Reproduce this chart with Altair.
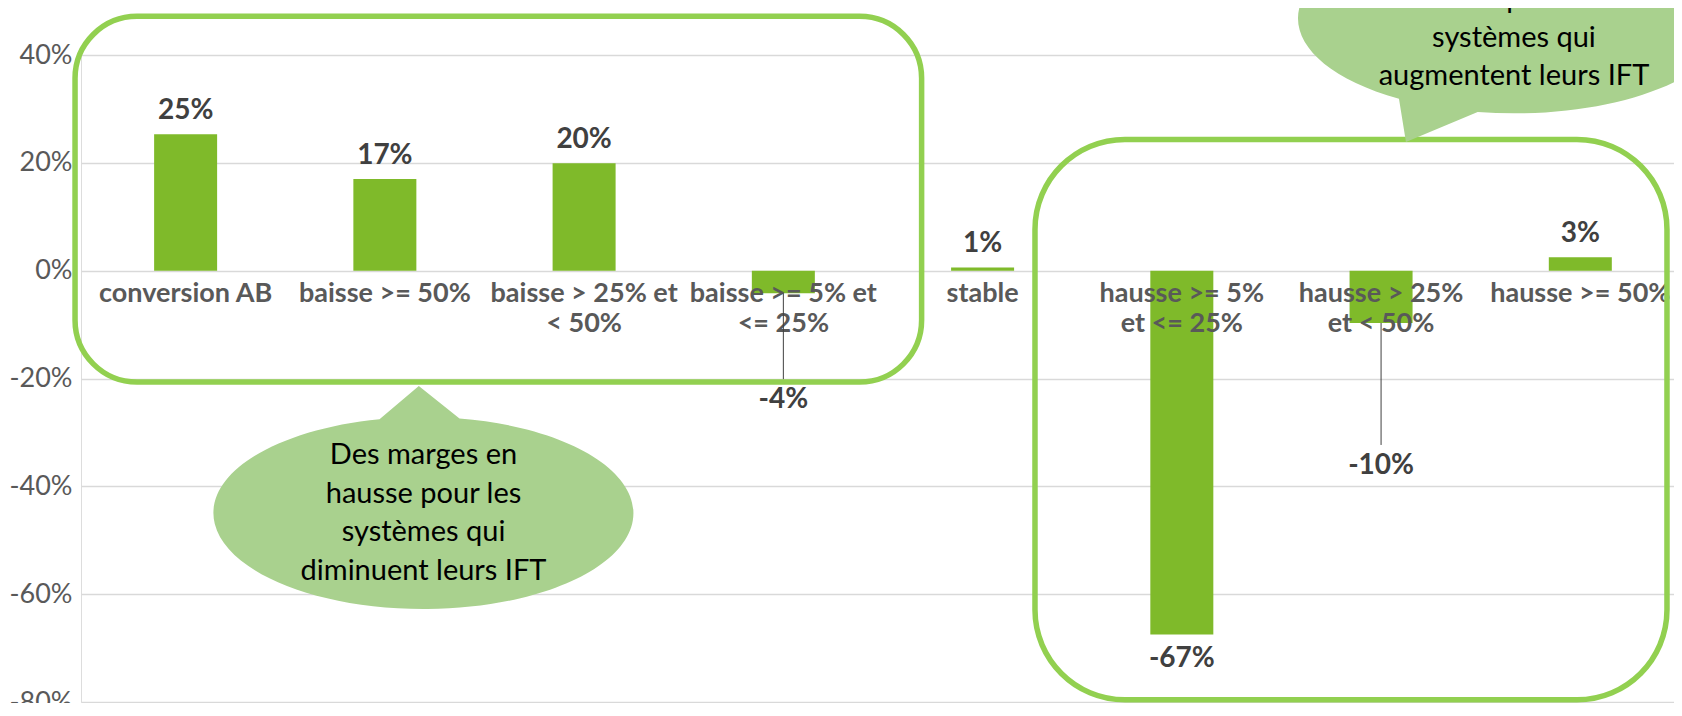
import altair as alt
import pandas as pd

# ---------------- data ----------------
categories = [
    "conversion AB",
    "baisse >= 50%",
    "baisse > 25% et < 50%",
    "baisse >= 5% et <= 25%",
    "stable",
    "hausse >= 5% et <= 25%",
    "hausse > 25% et < 50%",
    "hausse >= 50%",
]
axis_labels = [
    "conversion AB",
    "baisse >= 50%",
    "baisse > 25% et\n< 50%",
    "baisse >= 5% et\n<= 25%",
    "stable",
    "hausse >= 5%\net <= 25%",
    "hausse > 25%\net < 50%",
    "hausse >= 50%",
]
values = [0.253, 0.170, 0.199, -0.042, 0.006, -0.675, -0.097, 0.025]
value_labels = ["25%", "17%", "20%", "-4%", "1%", "-67%", "-10%", "3%"]
y_ticks = [-0.8, -0.6, -0.4, -0.2, 0.0, 0.2, 0.4]

bubble_texts = [
    "Des marges en\nhausse pour les\nsystèmes qui\ndiminuent leurs IFT",
    "Des marges en\nbaisse pour les\nsystèmes qui\naugmentent leurs IFT",
]

# ---------------- styling ----------------
FONT = "Lato"
BAR = "#7FBA2A"
FRAME = "#92D050"
BUBBLE = "#A9D18E"
W, H = 1593, 647
STEP = 200.5
XMAX = -0.5 + W / STEP
LH_BUBBLE = 38.6

df = pd.DataFrame({
    "idx": list(range(len(categories))),
    "cat": categories,
    "label": axis_labels,
    "value": values,
    "vlabel": value_labels,
})

xs = alt.Scale(domain=[-0.5, XMAX], nice=False, zero=False)
ys = alt.Scale(domain=[-0.8, 0.4], nice=False, zero=False)
X = alt.X("idx:Q", scale=xs, axis=None)

base = alt.Chart(df)

bars = base.mark_bar(size=63, color=BAR).encode(
    x=X,
    y=alt.Y(
        "value:Q", scale=ys,
        axis=alt.Axis(
            values=y_ticks, title=None, domain=False, ticks=False,
            grid=True, gridColor="#D9D9D9", gridWidth=1.5,
            labelExpr="toString(round(datum.value*100)) + '%'",
            labelFont=FONT, labelFontSize=27, labelColor="#595959",
            labelPadding=9, labelFlush=False, labelOverlap=False,
        ),
    ),
    y2=alt.datum(0),
)

cat_text = base.mark_text(
    font=FONT, fontSize=27, fontWeight="bold", color="#595959",
    lineBreak="\n", lineHeight=30, baseline="alphabetic", dy=31,
).encode(x=X, y=alt.datum(0), text="label:N")

LABEL_FONT = dict(font=FONT, fontSize=28, fontWeight="bold", color="#404040",
                  baseline="alphabetic")

pos_labels = base.transform_filter("datum.value >= 0").mark_text(
    dy=-15, **LABEL_FONT
).encode(x=X, y=alt.Y("value:Q", scale=ys), text="vlabel:N")

neg_plain = base.transform_filter("datum.value < -0.3").mark_text(
    dy=32, **LABEL_FONT
).encode(x=X, y=alt.Y("value:Q", scale=ys), text="vlabel:N")

# labels pulled away from their bar with a leader line
leader_style = {
    "baisse >= 5% et <= 25%": (86, 115),
    "hausse > 25% et < 50%": (122, 151),
}
leader_layers = []
for cat, (line_len, text_dy) in leader_style.items():
    sub = base.transform_filter(alt.datum.cat == cat)
    leader_layers.append(
        sub.mark_rule(color="#404040", strokeWidth=1, y2Offset=line_len).encode(
            x=X, y=alt.Y("value:Q", scale=ys), y2="value:Q"
        )
    )
    leader_layers.append(
        sub.mark_text(dy=text_dy, **LABEL_FONT).encode(
            x=X, y=alt.Y("value:Q", scale=ys), text="vlabel:N"
        )
    )

# rounded frames (in data coordinates)
frames = pd.DataFrame({
    "x": [-0.555, 4.263], "x2": [3.694, 7.435],
    "y": [0.4718, 0.2435], "y2": [-0.2065, -0.796],
    "r": [62, 90],
})
frame_layers = []
for i in range(2):
    frame_layers.append(
        alt.Chart(frames.iloc[[i]]).mark_rect(
            cornerRadius=int(frames.r[i]), fill="white", fillOpacity=0,
            stroke=FRAME, strokeWidth=5.5,
        ).encode(
            x=alt.X("x:Q", scale=xs), x2="x2:Q",
            y=alt.Y("y:Q", scale=ys), y2="y2:Q",
        )
    )

# speech bubbles (ellipse + tail as one custom symbol path)
bubble1_path = ("M -0.2095 -0.447 L -0.0224 -0.6048 L 0.1714 -0.4503 "
                "A 1 0.4571 0 1 1 -0.2095 -0.447 Z")
bubble2_path = ("M -0.5324 0.3723 L -0.5 0.5727 L -0.168 0.4336 "
                "A 1 0.4398 0 1 0 -0.5324 0.3723 Z")
bubbles = pd.DataFrame({
    "x": [1.194, 6.667], "y": [-0.4495, 0.468],
    "text": bubble_texts,
})
bubble_layers = []
for i, (path, r) in enumerate([(bubble1_path, 210), (bubble2_path, 216)]):
    bubble_layers.append(
        alt.Chart(bubbles.iloc[[i]]).mark_point(
            shape=path, size=(2 * r) ** 2, filled=True, fill=BUBBLE,
            opacity=1, strokeWidth=0,
        ).encode(x=alt.X("x:Q", scale=xs), y=alt.Y("y:Q", scale=ys))
    )
bubble_text = alt.Chart(bubbles).mark_text(
    font=FONT, fontSize=29, color="#000000", lineBreak="\n",
    lineHeight=LH_BUBBLE, baseline="middle", align="center",
    dy=-1.5 * LH_BUBBLE,
).encode(x=alt.X("x:Q", scale=xs), y=alt.Y("y:Q", scale=ys), text="text:N")

chart = alt.layer(
    bars, cat_text, pos_labels, neg_plain, *leader_layers,
    *frame_layers, *bubble_layers, bubble_text,
).properties(
    width=W, height=H,
    padding={"left": 73, "top": 47, "right": 0, "bottom": 1},
    autosize=alt.AutoSizeParams(type="none"),
).configure_view(strokeWidth=0).configure(background="white")

chart.save("out.html", embed_options={"renderer": "svg", "actions": False})
